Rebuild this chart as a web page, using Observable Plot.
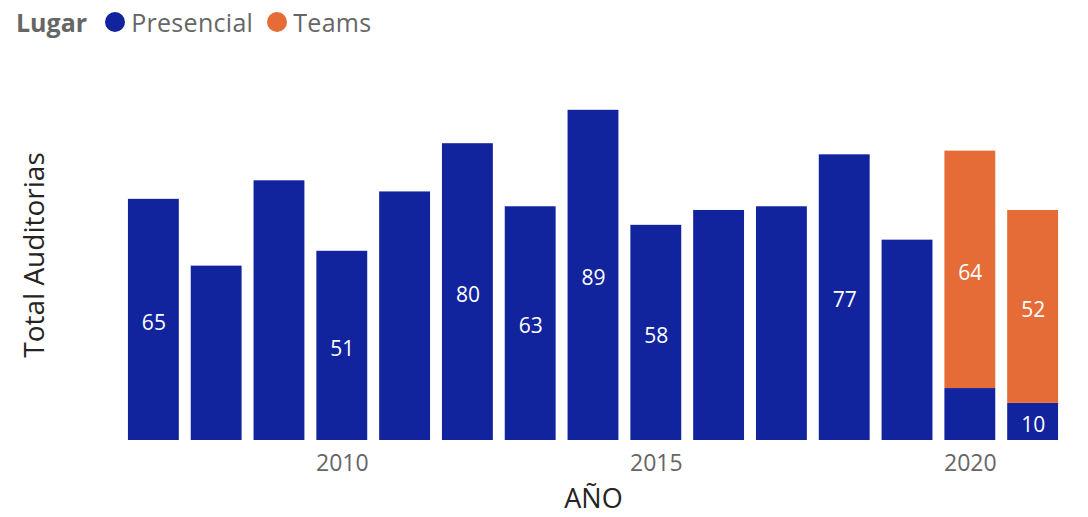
<!DOCTYPE html>
<html><head><meta charset="utf-8">
<script src="https://cdn.jsdelivr.net/npm/d3@7"></script>
<script src="https://cdn.jsdelivr.net/npm/@observablehq/plot@0.6"></script>
<style>
body{margin:0;background:#fff;font-family:"Segoe UI","Open Sans",sans-serif;}
#legend{height:44px;display:flex;align-items:center;padding-left:16px;font-size:25px;color:#666;white-space:nowrap;}
#legend b{margin-right:18px;}
#legend .dot{display:inline-block;width:20px;height:20px;border-radius:50%;margin-right:6px;}
#legend .item{display:flex;align-items:center;margin-right:14px;letter-spacing:0.3px;}
</style></head>
<body>
<div id="legend"></div>
<div id="chart"></div>
<script>
const years = [2007,2008,2009,2010,2011,2012,2013,2014,2015,2016,2017,2018,2019,2020,2021];
const presencial = [65,47,70,51,67,80,63,89,58,62,63,77,54,14,10];
const teams = [0,0,0,0,0,0,0,0,0,0,0,0,0,64,52];
const series = ["Presencial","Teams"];
const colors = ["#12239E","#E66C37"];
const labeledPresencial = [2007,2010,2012,2013,2014,2015,2018,2021];
const labeledTeams = [2020,2021];
const xTicks = [2010,2015,2020];

const legend = document.getElementById("legend");
legend.innerHTML = "<b>Lugar</b>" + series.map((s,i)=>
  `<span class="item"><span class="dot" style="background:${colors[i]}"></span>${s}</span>`).join("");

const data = [];
years.forEach((y,i)=>{
  data.push({year:y, lugar:"Presencial", value:presencial[i], show:labeledPresencial.includes(y)});
  if (teams[i]) data.push({year:y, lugar:"Teams", value:teams[i], show:labeledTeams.includes(y)});
});

const chart = Plot.plot({
  width:1088, height:473,
  marginLeft:116, marginRight:18, marginTop:25, marginBottom:77,
  style:{fontFamily:'"Segoe UI","Open Sans",sans-serif', background:"#fff"},
  x:{type:"band", domain:years, padding:0.19, round:false},
  y:{domain:[0,100], axis:null},
  color:{domain:series, range:colors},
  marks:[
    Plot.barY(data, {x:"year", y:"value", fill:"lugar", order:series}),
    Plot.text(data, Plot.stackY({x:"year", y:"value", z:"lugar", order:series,
      text:d=>d.show?String(d.value):"", fill:"white", fontSize:21, dy:3})),
    Plot.axisX({ticks:xTicks, tickSize:0, tickPadding:14, fontSize:23, fill:"#666", label:null, tickFormat:d=>String(d)}),
    Plot.text(["Total Auditorias"], {frameAnchor:"left", textAnchor:"middle", lineAnchor:"middle", dx:-81, rotate:-90, fontSize:28, fill:"#252423"}),
    Plot.text(["AÑO"], {frameAnchor:"bottom", lineAnchor:"middle", textAnchor:"middle", dy:59, fontSize:27, fill:"#252423"})
  ]
});
document.getElementById("chart").appendChild(chart);
</script>
</body></html>
